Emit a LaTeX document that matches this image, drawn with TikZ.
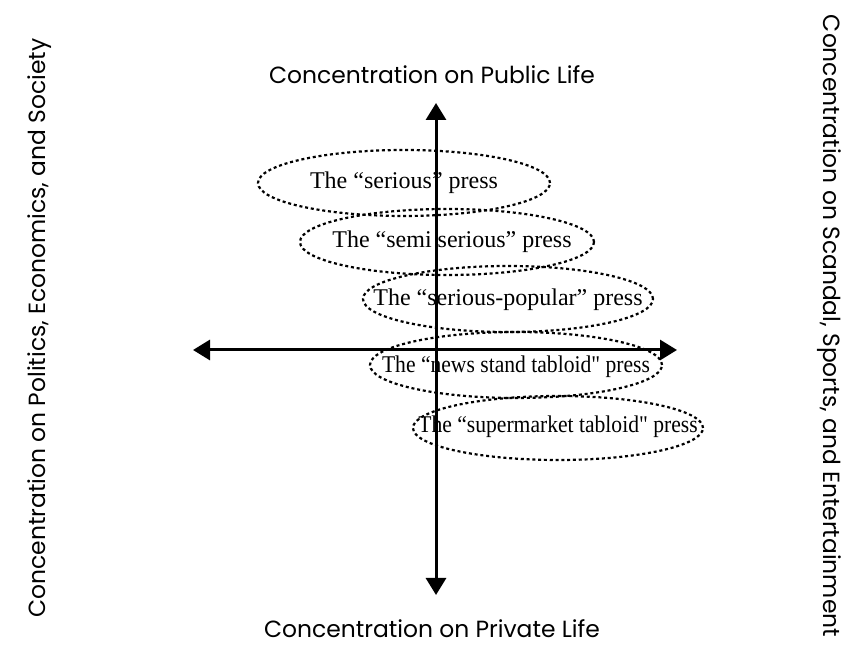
\documentclass[tikz,border=0pt]{standalone}
\usepackage{fontspec}
\setmainfont{Liberation Serif}
\newfontfamily\polefont{Poppins}
\usetikzlibrary{arrows.meta}

\tikzset{
  presstext/.style={inner sep=0pt,font=\fontsize{12}{14}\selectfont},
  ring/.style={line width=1.1pt,dash pattern=on 1.5pt off 1.4pt},
  axis/.style={line width=1.5pt,{Triangle[length=8.5pt,width=10pt]}-{Triangle[length=8.5pt,width=10pt]}},
  pole/.style={inner sep=0pt,font=\polefont\fontsize{11.7}{13}\selectfont}
}
\newcommand{\narrowtext}[1]{\scalebox{0.9}[1]{#1}}

\begin{document}
\begin{tikzpicture}[x=0.5pt,y=-0.5pt]
\useasboundingbox (0,0) rectangle (863,646);

% the kinds of press, from public life down to private life
\node[presstext] (serious) at (404,183) {The “serious” press};
\node[presstext] (semi) at (452,242) {The “semi serious” press};
\node[presstext] (popular) at (508,300) {The “serious-popular” press};
\node[presstext] (newsstand) at (516,367) {\narrowtext{The “news stand tabloid\textquotedbl{} press}};
\node[presstext] (supermarket) at (558,427) {\narrowtext{The “supermarket tabloid\textquotedbl{} press}};

\draw[ring] (serious.center) ellipse [x radius=73pt, y radius=16.5pt];
\draw[ring] ([xshift=-2.5pt]semi.center) ellipse [x radius=73.5pt, y radius=16.5pt];
\draw[ring] ([yshift=0.5pt]popular.center) ellipse [x radius=72.5pt, y radius=16.5pt];
\draw[ring] ([yshift=1pt]newsstand.center) ellipse [x radius=73pt, y radius=16.5pt];
\draw[ring] ([yshift=-0.5pt]supermarket.center) ellipse [x radius=72.5pt, y radius=16pt];

% the two axes
\coordinate (north) at (436,103);
\coordinate (south) at (436,595);
\coordinate (west) at (193,350);
\coordinate (east) at (677,350);
\draw[axis] (west) -- (east);
\draw[axis] (south) -- (north);

% what each end of the axes stands for
\node[pole] (public) at (432,75) {Concentration on Public Life};
\node[pole] (private) at (432,629) {Concentration on Private Life};
\node[pole,rotate=90] (politics) at (40,328) {Concentration on Politics, Economics, and Society};
\node[pole,rotate=-90] (scandal) at (829,326) {Concentration on Scandal, Sports, and Entertainment};

\end{tikzpicture}
\end{document}
